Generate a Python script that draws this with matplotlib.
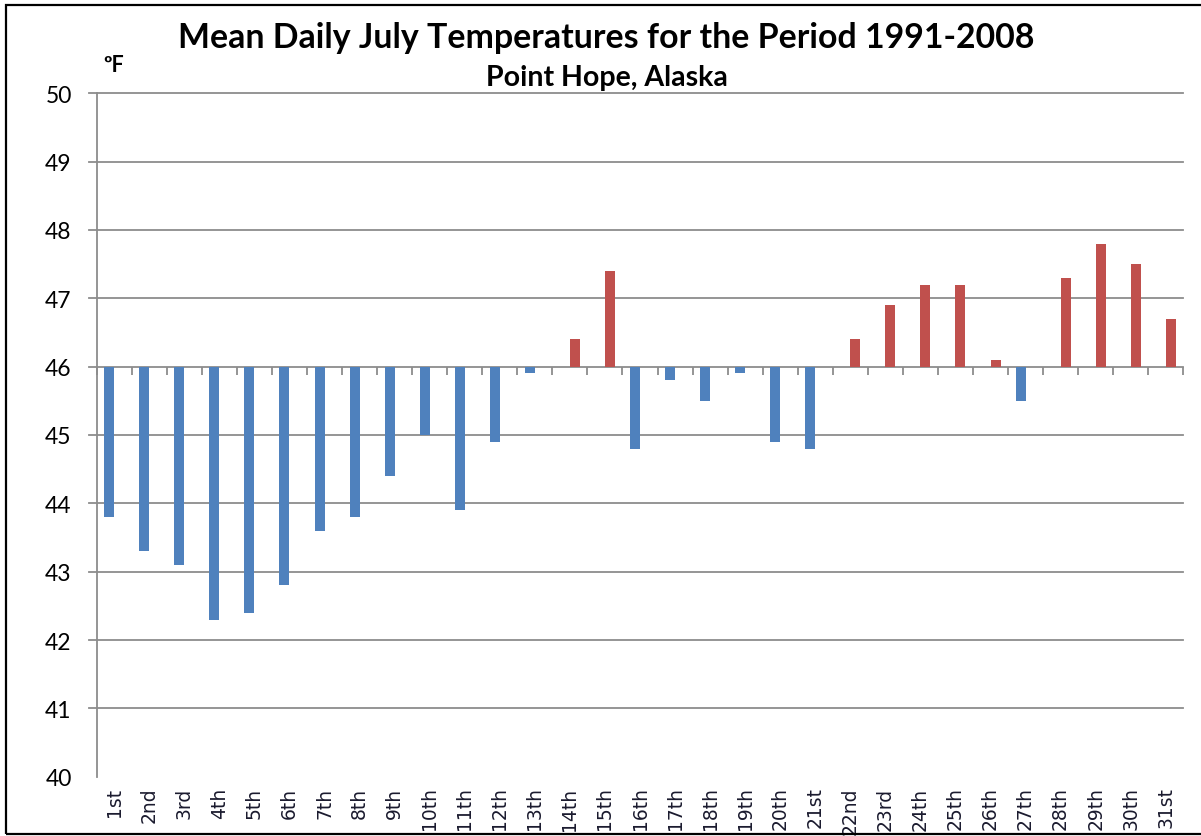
import matplotlib
matplotlib.use("Agg")
import matplotlib.pyplot as plt
import numpy as np
from matplotlib.patches import Rectangle

# ---- data ----
days = ["1st", "2nd", "3rd", "4th", "5th", "6th", "7th", "8th", "9th", "10th",
        "11th", "12th", "13th", "14th", "15th", "16th", "17th", "18th", "19th", "20th",
        "21st", "22nd", "23rd", "24th", "25th", "26th", "27th", "28th", "29th", "30th", "31st"]
temps = [43.8, 43.3, 43.1, 42.3, 42.4, 42.8, 43.6, 43.8, 44.4, 45.0,
         43.9, 44.9, 45.9, 46.4, 47.4, 44.8, 45.8, 45.5, 45.9, 44.9,
         44.8, 46.4, 46.9, 47.2, 47.2, 46.1, 45.5, 47.3, 47.8, 47.5, 46.7]
baseline = 46
y_ticks = list(range(40, 51))

BLUE = "#4F81BD"
RED = "#C0504D"
GRID = "#8C8C8C"

W, H = 1201, 837
fig = plt.figure(figsize=(W / 100, H / 100), dpi=100)
fig.patch.set_facecolor("white")

ax_left, ax_right = 96.7, 1183.3
ax_top, ax_bot = 94.3, 777.7
ax = fig.add_axes([ax_left / W, 1 - ax_bot / H, (ax_right - ax_left) / W, (ax_bot - ax_top) / H])

n = len(days)
x = np.arange(n)
t = np.array(temps)
w = 1 / 3.5
below = np.where(t < baseline, t - baseline, np.nan)
above = np.where(t >= baseline, t - baseline, np.nan)
ax.bar(x - w / 2, below, width=w, bottom=baseline, color=BLUE, zorder=3)
ax.bar(x + w / 2, above, width=w, bottom=baseline, color=RED, zorder=3)

ax.set_xlim(-0.5, n - 0.5)
ax.set_ylim(40, 50)

# gridlines (with left tick stubs), none at 40
tick_px = 8
for yv in y_ticks[1:]:
    ax.axhline(yv, xmin=-tick_px / (ax_right - ax_left), xmax=1, color=GRID,
               lw=1.3, zorder=1, clip_on=False)

# category tick marks hanging from the 46 crossing line
yfrac = (baseline - 40) / 10
ax.vlines(np.arange(n + 1) - 0.5, yfrac - tick_px / (ax_bot - ax_top), yfrac,
          transform=ax.get_xaxis_transform(), color=GRID, lw=1.3, zorder=2, clip_on=False)

for s in ["top", "right", "bottom"]:
    ax.spines[s].set_visible(False)
ax.spines["left"].set_color(GRID)
ax.spines["left"].set_linewidth(1.3)

ax.set_yticks(y_ticks)
ax.set_yticklabels([str(v) for v in y_ticks], family=["Lato", "DejaVu Sans"], fontsize=16.5)
ax.tick_params(axis="y", length=0, pad=18)

ax.set_xticks(x)
ax.set_xticklabels(days, rotation=90, family="DejaVu Sans", fontsize=13.5, color="#1a1a2e")
ax.tick_params(axis="x", length=0, pad=7)

fig.text(606 / W, 1 - 38 / H, "Mean Daily July Temperatures for the Period 1991-2008",
         ha="center", va="center", fontsize=24.4, fontweight="bold", family=["Lato", "DejaVu Sans"])
fig.text(607 / W, 1 - 78 / H, "Point Hope, Alaska",
         ha="center", va="center", fontsize=20.5, fontweight="bold", family=["Lato", "DejaVu Sans"])
fig.text(103 / W, 1 - 66 / H, "ºF", ha="left", va="center", fontsize=15.5,
         fontweight="bold", family=["Lato", "DejaVu Sans"])

fig.patches.append(Rectangle((6 / W, 2 / H), 1.0, (835 - 6) / H, transform=fig.transFigure,
                             fill=False, edgecolor="black", lw=1.6, clip_on=False))

fig.savefig("out.png", dpi=100)
